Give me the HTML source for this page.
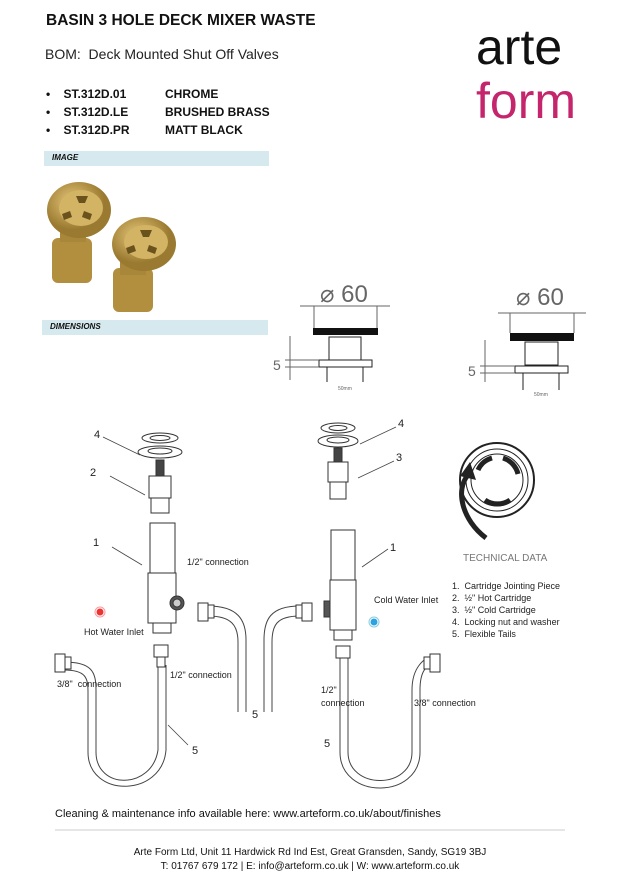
<!DOCTYPE html>
<html><head><meta charset="utf-8"><style>
body{margin:0;width:620px;height:886px;background:#fff;position:relative;overflow:hidden;font-family:"Liberation Sans",sans-serif;color:#111}
.a{position:absolute;white-space:nowrap}
.b{font-weight:bold}
.bar{position:absolute;background:#d6e9ee;height:15px}
.bar span{position:absolute;left:8px;top:2px;font-size:8px;font-weight:bold;font-style:italic}
</style></head><body>
<div class="a b" style="left:46px;top:12px;font-size:15.5px">BASIN 3 HOLE DECK MIXER WASTE</div>
<div class="a" style="left:45px;top:46px;font-size:14px;color:#222">BOM:&nbsp; Deck Mounted Shut Off Valves</div>
<div class="a b" style="left:46px;top:85px;font-size:12px;line-height:18px">•&nbsp;&nbsp;&nbsp; ST.312D.01<br>•&nbsp;&nbsp;&nbsp; ST.312D.LE<br>•&nbsp;&nbsp;&nbsp; ST.312D.PR</div>
<div class="a b" style="left:165px;top:85px;font-size:12px;line-height:18px">CHROME<br>BRUSHED BRASS<br>MATT BLACK</div>
<div class="a" style="left:476px;top:22px;font-size:50px;line-height:50px;color:#111">arte</div>
<div class="a" style="left:476px;top:76px;font-size:50px;line-height:50px;color:#c4256c">form</div>
<div class="bar" style="left:44px;top:151px;width:225px"><span>IMAGE</span></div>
<div class="bar" style="left:42px;top:320px;width:226px"><span>DIMENSIONS</span></div>

<svg class="a" style="left:0;top:0" width="620" height="886">
<defs><radialGradient id="g" cx="40%" cy="35%"><stop offset="0" stop-color="#e6c77a"/><stop offset="1" stop-color="#9a7a30"/></radialGradient></defs>
<g><rect x="52" y="238" width="40" height="45" rx="6" fill="#b28f3f"/><rect x="60" y="222" width="26" height="20" fill="#a8873a"/>
<ellipse cx="79" cy="210" rx="32" ry="28" fill="url(#g)"/><ellipse cx="81" cy="208" rx="22" ry="18" fill="#d2b464"/>
<path d="M76 196h12l-3 7h-6zM62 214l8-3 2 6-8 3zM92 214l-8-3-2 6 8 3z" fill="#6a521c"/></g>
<g><rect x="113" y="268" width="40" height="44" rx="6" fill="#b28f3f"/><rect x="120" y="255" width="26" height="20" fill="#a8873a"/>
<ellipse cx="144" cy="244" rx="32" ry="27" fill="url(#g)"/><ellipse cx="146" cy="242" rx="22" ry="17" fill="#d2b464"/>
<path d="M140 230h12l-3 7h-6zM126 248l8-3 2 6-8 3zM157 248l-8-3-2 6 8 3z" fill="#6a521c"/></g>

<g stroke="#666" fill="none" stroke-width="1">
<text x="320" y="302" font-size="24" fill="#666" stroke="none" font-family="Liberation Sans">⌀ 60</text>
<line x1="300" y1="306" x2="390" y2="306"/><line x1="314" y1="306" x2="314" y2="328"/><line x1="377" y1="306" x2="377" y2="328"/>
<rect x="313" y="328" width="65" height="7" fill="#111" stroke="none"/>
<rect x="329" y="337" width="32" height="23" stroke="#222"/><rect x="319" y="360" width="53" height="7" stroke="#222"/>
<line x1="327" y1="367" x2="327" y2="382" stroke="#222"/><line x1="363" y1="367" x2="363" y2="382" stroke="#222"/>
<line x1="290" y1="336" x2="290" y2="380"/><line x1="285" y1="360" x2="319" y2="360"/><line x1="285" y1="367" x2="319" y2="367"/>
<text x="273" y="370" font-size="14" fill="#666" stroke="none">5</text>
<text x="338" y="390" font-size="5" fill="#666" stroke="none">50mm</text>
<text x="516" y="305" font-size="24" fill="#666" stroke="none" font-family="Liberation Sans">⌀ 60</text>
<line x1="498" y1="313" x2="586" y2="313"/><line x1="510" y1="313" x2="510" y2="333"/><line x1="574" y1="313" x2="574" y2="333"/>
<rect x="510" y="333" width="64" height="8" fill="#111" stroke="none"/>
<rect x="525" y="342" width="33" height="23" stroke="#222"/><rect x="515" y="366" width="53" height="7" stroke="#222"/>
<line x1="523" y1="373" x2="523" y2="390" stroke="#222"/><line x1="559" y1="373" x2="559" y2="390" stroke="#222"/>
<line x1="485" y1="340" x2="485" y2="382"/><line x1="480" y1="366" x2="515" y2="366"/><line x1="480" y1="373" x2="515" y2="373"/>
<text x="468" y="376" font-size="14" fill="#666" stroke="none">5</text>
<text x="534" y="396" font-size="5" fill="#666" stroke="none">50mm</text>
</g>

<g stroke="#333" fill="#fff" stroke-width="1">
<ellipse cx="160" cy="438" rx="18" ry="5"/><ellipse cx="160" cy="438" rx="10" ry="2.5"/>
<ellipse cx="160" cy="452" rx="22" ry="6"/><ellipse cx="160" cy="451" rx="12" ry="3"/>
<rect x="156" y="460" width="8" height="16" fill="#444"/>
<rect x="149" y="476" width="22" height="22"/><rect x="151" y="498" width="18" height="15"/>
<rect x="150" y="523" width="25" height="50"/><rect x="148" y="573" width="28" height="50"/><rect x="153" y="623" width="18" height="10"/>
<circle cx="177" cy="603" r="7" fill="#555"/><circle cx="177" cy="603" r="4" fill="#ccc"/>
<ellipse cx="338" cy="428" rx="17" ry="5"/><ellipse cx="338" cy="428" rx="9" ry="2.5"/>
<ellipse cx="338" cy="441" rx="20" ry="6"/><ellipse cx="338" cy="440" rx="11" ry="3"/>
<rect x="334" y="448" width="8" height="14" fill="#444"/>
<rect x="328" y="462" width="20" height="20"/><rect x="330" y="482" width="16" height="17"/>
<rect x="331" y="530" width="24" height="50"/><rect x="330" y="580" width="26" height="50"/><rect x="334" y="630" width="18" height="10"/>
<rect x="324" y="601" width="6" height="16" fill="#555"/>
</g>
<g stroke="#444" fill="none" stroke-width="0.8">
<line x1="103" y1="437" x2="140" y2="455"/><line x1="110" y1="476" x2="145" y2="495"/><line x1="112" y1="547" x2="142" y2="565"/>
<line x1="396" y1="427" x2="360" y2="444"/><line x1="394" y1="461" x2="358" y2="478"/><line x1="388" y1="549" x2="362" y2="567"/>
<line x1="168" y1="725" x2="188" y2="745"/>
</g>
<g stroke="#444" fill="none" stroke-width="1">
<path d="M64 662 C92 662 96 672 96 690 L96 752 C96 790 152 790 158 750 L158 665"/>
<path d="M64 670 C86 670 88 678 88 692 L88 752 C88 798 162 798 166 750 L166 665"/>
<path d="M208 606 C238 606 246 620 246 640 L246 712"/><path d="M208 616 C232 616 238 626 238 642 L238 712"/>
<path d="M300 606 C270 606 264 620 264 640 L264 712"/><path d="M300 616 C276 616 272 626 272 642 L272 712"/>
<path d="M340 658 L340 752 C340 800 420 800 420 752 L420 690 C420 672 426 664 436 664"/>
<path d="M348 658 L348 752 C348 790 412 790 412 752 L412 690 C412 668 424 656 436 656"/>
</g>
<g stroke="#333" fill="#fff">
<rect x="55" y="654" width="10" height="18"/><rect x="65" y="657" width="6" height="12"/>
<rect x="154" y="645" width="14" height="12"/><rect x="157" y="657" width="8" height="10"/>
<rect x="198" y="603" width="10" height="18"/><rect x="208" y="605" width="6" height="13"/>
<rect x="302" y="603" width="10" height="18"/><rect x="296" y="605" width="6" height="13"/>
<rect x="336" y="646" width="14" height="12"/><rect x="430" y="654" width="10" height="18"/><rect x="424" y="657" width="6" height="12"/>
</g>
<g fill="none" stroke="#222">
<circle cx="497" cy="480" r="37" stroke-width="2"/><circle cx="497" cy="480" r="31"/><circle cx="497" cy="480" r="26"/>
<path d="M478 470 A22 22 0 0 1 492 458" stroke-width="5"/><path d="M503 458 A22 22 0 0 1 518 474" stroke-width="5"/><path d="M485 500 A22 22 0 0 0 510 500" stroke-width="5"/>
<path d="M468 475 C455 490 462 520 486 538" stroke-width="5"/>
</g>
<path d="M460 476 L470 462 L476 480 Z" fill="#222"/>
<circle cx="100" cy="612" r="3.5" fill="#e33"/><circle cx="100" cy="612" r="5" fill="none" stroke="#f99"/>
<circle cx="374" cy="622" r="3.5" fill="#2aa3e0"/><circle cx="374" cy="622" r="5" fill="none" stroke="#8cd"/>
<line x1="55" y1="830" x2="565" y2="830" stroke="#ccc"/>
</svg>

<div style="font-size:9px;color:#222">
<div class="a" style="left:94px;top:429px;font-size:11px">4</div>
<div class="a" style="left:90px;top:467px;font-size:11px">2</div>
<div class="a" style="left:93px;top:537px;font-size:11px">1</div>
<div class="a" style="left:398px;top:418px;font-size:11px">4</div>
<div class="a" style="left:396px;top:452px;font-size:11px">3</div>
<div class="a" style="left:390px;top:542px;font-size:11px">1</div>
<div class="a" style="left:187px;top:557px">1/2" connection</div>
<div class="a" style="left:84px;top:627px">Hot Water Inlet</div>
<div class="a" style="left:374px;top:595px">Cold Water Inlet</div>
<div class="a" style="left:57px;top:679px">3/8"&nbsp; connection</div>
<div class="a" style="left:170px;top:670px">1/2" connection</div>
<div class="a" style="left:321px;top:684px;line-height:13px">1/2"<br>connection</div>
<div class="a" style="left:414px;top:698px">3/8" connection</div>
<div class="a" style="left:192px;top:745px;font-size:11px">5</div>
<div class="a" style="left:252px;top:709px;font-size:11px">5</div>
<div class="a" style="left:324px;top:738px;font-size:11px">5</div>
<div class="a" style="left:463px;top:553px;font-size:10px;color:#777">TECHNICAL DATA</div>
<div class="a" style="left:452px;top:580px;line-height:12px">1.&nbsp; Cartridge Jointing Piece<br>2.&nbsp; ½" Hot Cartridge<br>3.&nbsp; ½" Cold Cartridge<br>4.&nbsp; Locking nut and washer<br>5.&nbsp; Flexible Tails</div>
</div>
<div class="a" style="left:55px;top:808px;font-size:11px">Cleaning &amp; maintenance info available here: www.arteform.co.uk/about/finishes</div>
<div class="a" style="left:0;width:620px;text-align:center;top:846px;font-size:10px;line-height:14px">Arte Form Ltd, Unit 11 Hardwick Rd Ind Est, Great Gransden, Sandy, SG19 3BJ<br>T: 01767 679 172 | E: info@arteform.co.uk | W: www.arteform.co.uk</div>
</body></html>
